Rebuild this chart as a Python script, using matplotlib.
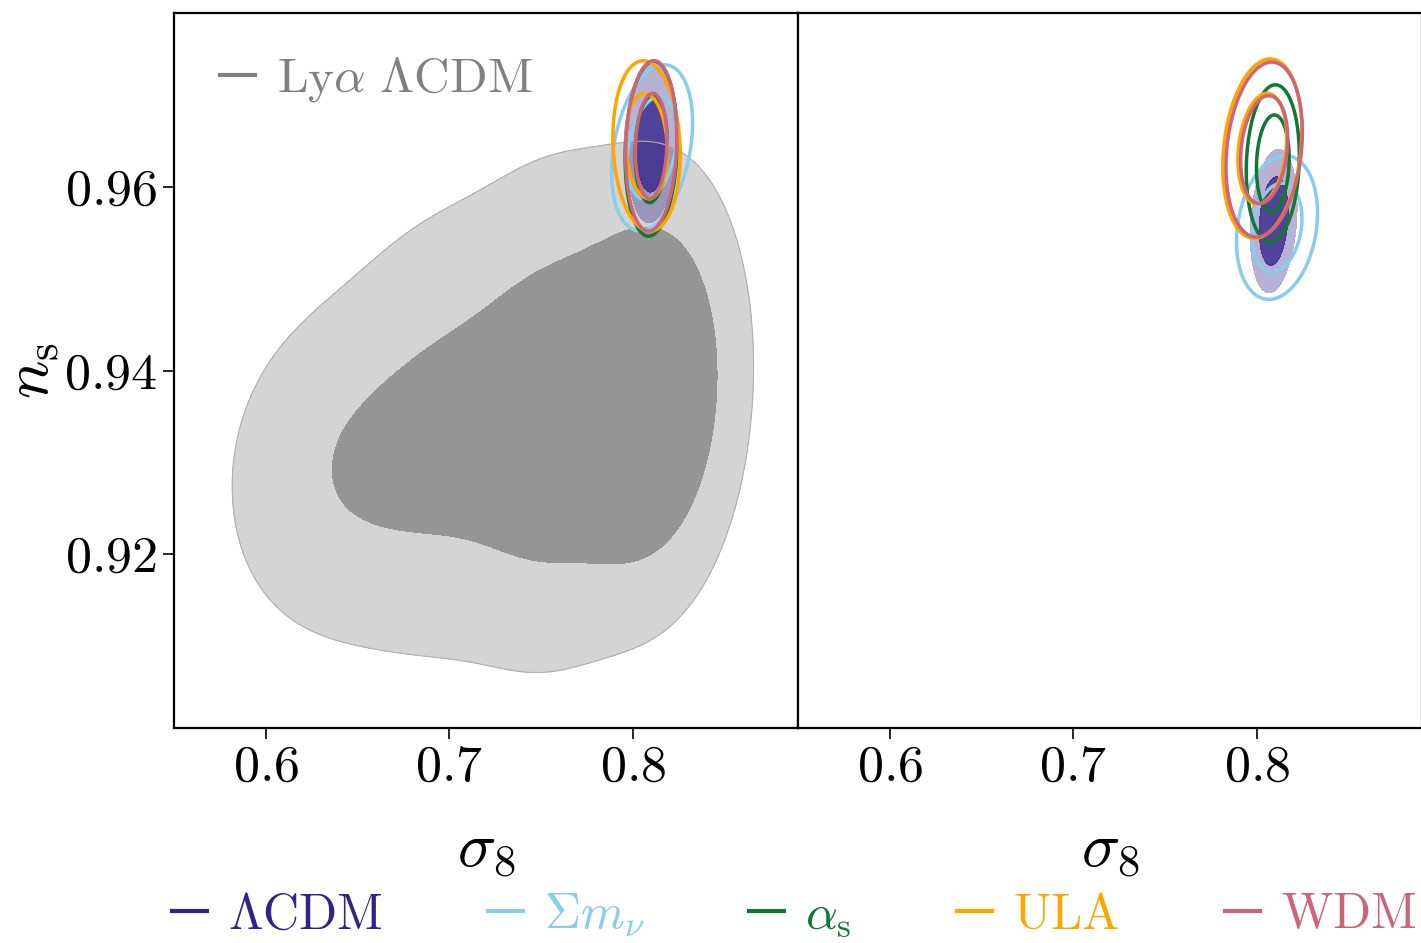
import numpy as np
import matplotlib
matplotlib.use("Agg")
import matplotlib.pyplot as plt
from matplotlib.lines import Line2D

plt.rcParams['mathtext.fontset'] = 'cm'
plt.rcParams['font.family'] = 'serif'
plt.rcParams['font.serif'] = ['cmr10', 'DejaVu Serif']

# ---------------- data ----------------
labels = [r'$\Lambda\mathrm{CDM}$', r'$\Sigma m_\nu$', r'$\alpha_\mathrm{s}$',
          r'$\mathrm{ULA}$', r'$\mathrm{WDM}$']
colors = ['#332288', '#88CCEE', '#117733', '#FFA500', '#CC6677']

# gaussian posteriors (sigma8, n_s) : mean, std, correlation
# left panel (with Lya)
left_s8 = [0.8103, 0.8105, 0.8100, 0.8075, 0.8100]
left_ns = [0.9649, 0.9643, 0.9642, 0.9645, 0.9645]
left_ss8 = [0.0055, 0.0090, 0.0058, 0.0075, 0.0057]
left_sns = [0.0036, 0.0037, 0.0039, 0.0038, 0.0038]
left_rho = [0.1, 0.3, 0.1, -0.1, 0.1]
# right panel
right_s8 = [0.8092, 0.8110, 0.8087, 0.8030, 0.8040]
right_ns = [0.9563, 0.9556, 0.9626, 0.9642, 0.9641]
right_ss8 = [0.0052, 0.0090, 0.0059, 0.0088, 0.0085]
right_sns = [0.0032, 0.0032, 0.0035, 0.0040, 0.0039]
right_rho = [0.2, 0.2, 0.1, 0.2, 0.2]

# Lya LCDM posterior: mixture of gaussians
lya_w = [0.35, 0.6, 0.85, 1.0]
lya_s8 = [0.64, 0.70, 0.76, 0.81]
lya_ns = [0.9290, 0.9335, 0.9355, 0.9378]
lya_ss8 = [0.035, 0.035, 0.030, 0.024]
lya_sns = [0.0100, 0.0125, 0.0132, 0.0112]
lya_rho = [0.1, 0.1, 0.1, 0.1]

xticks = [0.6, 0.7, 0.8]
xticklabels = [r'$0.6$', r'$0.7$', r'$0.8$']
yticks = [0.92, 0.94, 0.96]
yticklabels = [r'$0.92$', r'$0.94$', r'$0.96$']
xlim = (0.55, 0.89)
ylim = (0.901, 0.979)

# ---------------- helpers ----------------
X, Y = np.meshgrid(np.linspace(xlim[0], xlim[1], 700), np.linspace(ylim[0], ylim[1], 700))


def gauss(mx, my, sx, sy, r):
    dx = (X - mx) / sx
    dy = (Y - my) / sy
    q = (dx**2 - 2*r*dx*dy + dy**2) / (1 - r**2)
    return np.exp(-0.5*q) / (2*np.pi*sx*sy*np.sqrt(1 - r**2))


def levels(z, probs=(0.95, 0.68)):
    zs = np.sort(z.ravel())[::-1]
    c = np.cumsum(zs) / zs.sum()
    return [zs[np.searchsorted(c, p)] for p in probs]


def draw_set(ax, s8, ns, ss8, sns, rho):
    order = [1, 0, 2, 3, 4]
    for i in order:
        z = gauss(s8[i], ns[i], ss8[i], sns[i], rho[i])
        lv = levels(z)
        if i == 0:
            ax.contourf(X, Y, z, levels=[lv[0], lv[1]], colors=[colors[i]], alpha=0.35)
            ax.contourf(X, Y, z, levels=[lv[1], z.max()*2], colors=[colors[i]], alpha=0.85)
        else:
            ax.contour(X, Y, z, levels=lv, colors=[colors[i]], linewidths=2.5)


# ---------------- figure ----------------
fig = plt.figure(figsize=(14.21, 9.43), dpi=100)
W, H = 1421, 943
ax1 = fig.add_axes([174/W, 1 - 728/H, 624/W, 715/H])
ax2 = fig.add_axes([798/W, 1 - 728/H, 624/W, 715/H])

# Lya contours
zl = sum(w*gauss(a, b, c, d, r) for w, a, b, c, d, r in zip(lya_w, lya_s8, lya_ns, lya_ss8, lya_sns, lya_rho))
lvl = levels(zl)
ax1.contourf(X, Y, zl, levels=[lvl[0], lvl[1]], colors=['#d4d4d4'])
ax1.contourf(X, Y, zl, levels=[lvl[1], zl.max()*2], colors=['#959595'])
ax1.contour(X, Y, zl, levels=[lvl[0]], colors=['#b0b0b0'], linewidths=0.8)

draw_set(ax1, left_s8, left_ns, left_ss8, left_sns, left_rho)
draw_set(ax2, right_s8, right_ns, right_ss8, right_sns, right_rho)

for ax in (ax1, ax2):
    ax.set_xlim(xlim)
    ax.set_ylim(ylim)
    ax.set_xticks(xticks)
    ax.set_xticklabels(xticklabels)
    ax.tick_params(direction='out', length=8, width=1.2, labelsize=37.5, pad=4)
    ax.set_xlabel(r'$\sigma_8$', fontsize=46)
    ax.xaxis.set_label_coords(0.5, -0.132)
    for s in ax.spines.values():
        s.set_linewidth(1.6)
ax1.set_yticks(yticks)
ax1.set_yticklabels(yticklabels)
ax1.set_ylabel(r'$n_\mathrm{s}$', fontsize=46)
ax1.yaxis.set_label_coords(-0.179, 0.5)
ax2.set_yticks([])

lya_handle = Line2D([], [], color='gray', lw=3)
leg1 = ax1.legend([lya_handle], [r'$\mathrm{Ly}\alpha\ \Lambda\mathrm{CDM}$'], loc='center left',
                  bbox_to_anchor=(46/624, 1 - 67/715), frameon=False, fontsize=35.5,
                  handlelength=0.7, handletextpad=0.45, borderpad=0, borderaxespad=0)
for t in leg1.get_texts():
    t.set_color('gray')

handles = [Line2D([], [], color=c, lw=3) for c in colors]
leg = fig.legend(handles, labels, loc='center left', bbox_to_anchor=(172/W, 1 - 915/H),
                 ncol=5, frameon=False, fontsize=36, handlelength=0.7, handletextpad=0.42,
                 columnspacing=2.1, borderpad=0, borderaxespad=0)
for t, c in zip(leg.get_texts(), colors):
    t.set_color(c)

fig.savefig('out.png', dpi=100)
